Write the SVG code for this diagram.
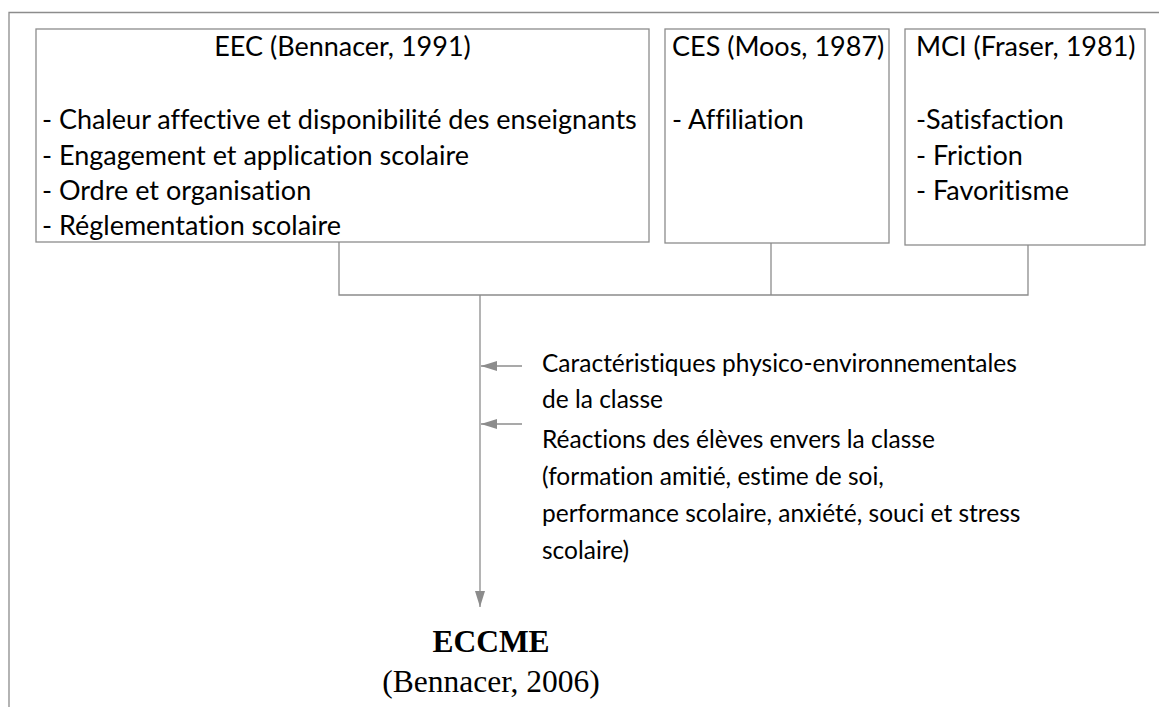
<svg xmlns="http://www.w3.org/2000/svg" width="1159" height="707" viewBox="0 0 1159 707">
<style>
.t{font-family:Lato,"Open Sans",sans-serif;font-size:24.5px;fill:#000;font-variant-ligatures:none}
.b{font-size:27px}
.box{fill:#fff;stroke:#8c8c8c;stroke-width:1.3}
.ln{fill:none;stroke:#8c8c8c;stroke-width:1.3}
.tr{font-family:"Liberation Serif","Times New Roman",serif;font-size:31.5px;fill:#000}
</style>
<defs>
<marker id="ah" viewBox="0 0 16 10" refX="16" refY="5" markerWidth="16" markerHeight="10" markerUnits="userSpaceOnUse" orient="auto">
<path d="M0,0 L16,5 L0,10 Z" fill="#8c8c8c"/>
</marker>
</defs>
<g id="frame">
<path class="ln" d="M9,707 V12.5 H1159" stroke="#a6a6a6"/>
</g>
<g id="eec">
<rect class="box" x="36" y="29" width="613" height="213"/>
<text class="t b" x="342.5" y="56" text-anchor="middle">EEC (Bennacer, 1991)</text>
<text class="t b" x="42" y="129">- Chaleur affective et disponibilité des enseignants</text>
<text class="t b" x="42" y="165">- Engagement et application scolaire</text>
<text class="t b" x="42" y="200">- Ordre et organisation</text>
<text class="t b" x="42" y="235">- Réglementation scolaire</text>
</g>
<g id="ces">
<rect class="box" x="665" y="29" width="224" height="214"/>
<text class="t b" x="672" y="56">CES (Moos, 1987)</text>
<text class="t b" x="672" y="129">- Affiliation</text>
</g>
<g id="mci">
<rect class="box" x="905" y="29" width="240" height="216"/>
<text class="t b" x="916" y="56">MCI (Fraser, 1981)</text>
<text class="t b" x="916" y="129">-Satisfaction</text>
<text class="t b" x="916" y="165">- Friction</text>
<text class="t b" x="916" y="200">- Favoritisme</text>
</g>
<g id="connectors">
<path class="ln" d="M339,242 V295 H1028 V245"/>
<path class="ln" d="M771,243 V295"/>
<path class="ln" d="M480,295 V607" marker-end="url(#ah)"/>
<path class="ln" d="M522,366 H481" marker-end="url(#ah)"/>
<path class="ln" d="M522,424 H481" marker-end="url(#ah)"/>
</g>
<g id="factor1">
<text class="t" x="542" y="372">Caractéristiques physico-environnementales</text>
<text class="t" x="542" y="408">de la classe</text>
</g>
<g id="factor2">
<text class="t" x="542" y="448">Réactions des élèves envers la classe</text>
<text class="t" x="542" y="485">(formation amitié, estime de soi,</text>
<text class="t" x="542" y="522">performance scolaire, anxiété, souci et stress</text>
<text class="t" x="542" y="559">scolaire)</text>
</g>
<g id="eccme">
<text class="tr" x="491" y="652" text-anchor="middle" font-weight="bold">ECCME</text>
<text class="tr" x="491" y="692" text-anchor="middle">(Bennacer, 2006)</text>
</g>
</svg>
